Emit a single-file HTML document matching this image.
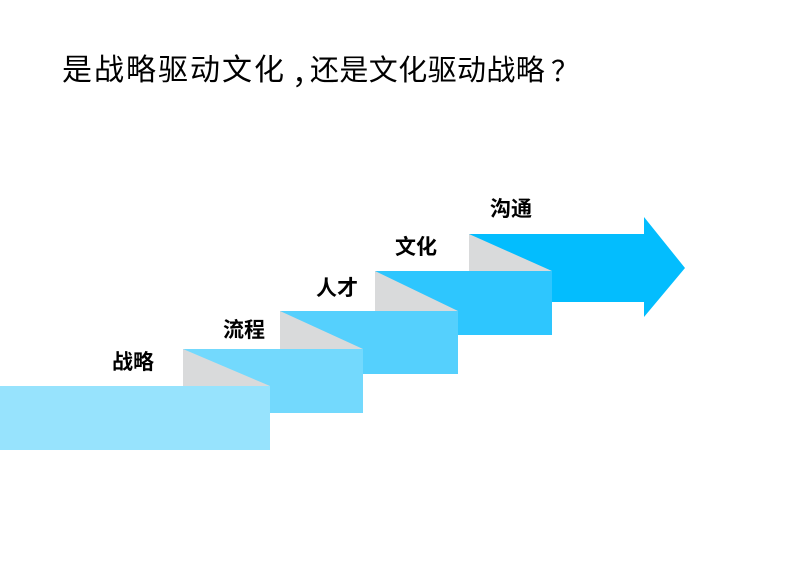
<!DOCTYPE html>
<html><head><meta charset="utf-8"><style>
html,body{margin:0;padding:0;background:#fff;}
body{width:785px;height:587px;position:relative;overflow:hidden;}
.t{position:absolute;font-family:"Liberation Sans","Noto Sans CJK SC",sans-serif;color:#000;white-space:nowrap;line-height:1;}
.l{font-weight:bold;font-size:21px;}
.h{font-size:30px;top:56px;}
.c{font-family:"Noto Sans CJK SC",sans-serif;}
</style></head><body>
<svg width="785" height="587" style="position:absolute;left:0;top:0">
  <polygon points="469,234 644,234 644,217 685,268 644,317 644,302 469,302" fill="#03bdfe"/>
  <polygon points="469,234 552,271 469,271" fill="#d9dadb"/>
  <rect x="375" y="271" width="177" height="64" fill="#2ec6fe"/>
  <polygon points="375,271 458,311 375,311" fill="#d9dadb"/>
  <rect x="280" y="311" width="178" height="63" fill="#55d0fd"/>
  <polygon points="280,311 363,349 280,349" fill="#d9dadb"/>
  <rect x="183" y="349" width="180" height="64" fill="#73d9fd"/>
  <polygon points="183,349 270,386 183,386" fill="#d9dadb"/>
  <rect x="0" y="386" width="270" height="64" fill="#97e3fd"/>
</svg>
<div class="t h" style="left:62px;letter-spacing:2px;">是战略驱动文化</div>
<div class="t h c" style="left:292px;">，</div>
<div class="t h" style="left:310px;font-size:29px;top:57px;letter-spacing:0.4px;">还是文化驱动战略</div>
<div class="t h c" style="left:551px;font-size:28px;">？</div>
<div class="t l" style="left:112px;top:352px;">战略</div>
<div class="t l" style="left:223px;top:320px;">流程</div>
<div class="t l" style="left:316px;top:278px;">人才</div>
<div class="t l" style="left:395px;top:237px;">文化</div>
<div class="t l" style="left:490px;top:199px;">沟通</div>
</body></html>
